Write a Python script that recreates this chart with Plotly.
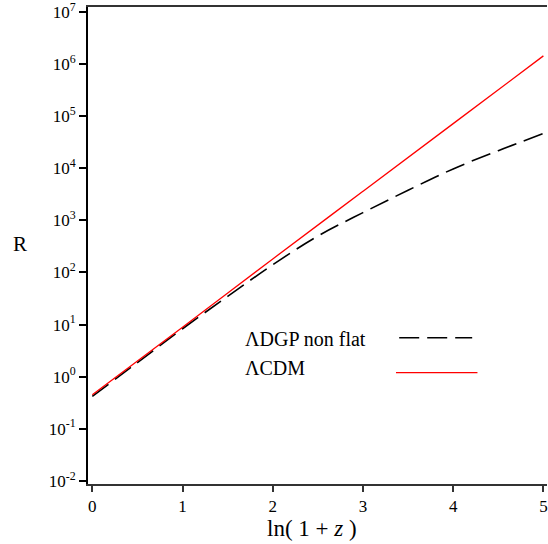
import plotly.graph_objects as go

# x = ln(1+z)
x_vals = [0, 0.5, 1, 1.5, 2, 2.5, 3, 3.5, 4, 4.5, 5]
# Lambda DGP non flat
r_dgp = [0.417, 1.86, 8.3, 34.7, 141, 501, 1413, 3800, 9770, 21900, 46800]
# Lambda CDM
x_lcdm = [0, 1, 2, 3, 4, 5]
r_lcdm = [0.447, 8.9, 182, 3630, 72400, 1.45e6]

name_dgp = "ΛDGP non flat"
name_lcdm = "ΛCDM"

y_tickvals = [1e-2, 1e-1, 1e0, 1e1, 1e2, 1e3, 1e4, 1e5, 1e6, 1e7]
y_ticktext = ["10<sup>-2</sup>", "10<sup>-1</sup>", "10<sup>0</sup>", "10<sup>1</sup>",
              "10<sup>2</sup>", "10<sup>3</sup>", "10<sup>4</sup>", "10<sup>5</sup>",
              "10<sup>6</sup>", "10<sup>7</sup>"]
x_tickvals = [0, 1, 2, 3, 4, 5]

FONT = "Liberation Serif"

fig = go.Figure()
fig.add_trace(go.Scatter(x=x_vals, y=r_dgp, mode="lines", name=name_dgp,
                         line=dict(color="black", width=1.6, dash="20px,8px", shape="spline"),
                         showlegend=False))
fig.add_trace(go.Scatter(x=x_lcdm, y=r_lcdm, mode="lines", name=name_lcdm,
                         line=dict(color="red", width=1.3, shape="spline"),
                         showlegend=False))

fig.update_layout(
    width=548, height=544,
    margin=dict(l=88, r=0, t=5, b=60),
    paper_bgcolor="white", plot_bgcolor="white",
    font=dict(family=FONT, size=16, color="black"),
    xaxis=dict(range=[-0.048, 5.04], tickvals=x_tickvals, ticks="outside", ticklen=6,
               tickwidth=1.5, tickcolor="#333", showline=True, linecolor="#333",
               linewidth=2, mirror=True, showgrid=False, zeroline=False,
               ticklabeloverflow="allow",
               tickfont=dict(family=FONT, size=17)),
    yaxis=dict(type="log", range=[-2.063, 7.10], tickvals=y_tickvals, ticktext=y_ticktext,
               ticks="outside", ticklen=7, tickwidth=1.5, tickcolor="black",
               showline=True, linecolor="black", linewidth=2, showgrid=False,
               zeroline=False, ticklabeloverflow="allow",
               tickfont=dict(family=FONT, size=17)),
)

annotations = [
    dict(text="R", x=-0.148, y=0.503, xref="paper", yref="paper", showarrow=False,
         font=dict(family=FONT, size=21), xanchor="center", yanchor="middle"),
    dict(text="ln( 1 + <i>z</i> )", x=0.489, y=-0.094, xref="paper", yref="paper",
         showarrow=False, font=dict(family=FONT, size=23), xanchor="center", yanchor="middle"),
    dict(text=name_dgp, x=0.3376, y=0.303, xref="paper", yref="paper", showarrow=False,
         font=dict(family=FONT, size=20), xanchor="left", yanchor="middle"),
    dict(text=name_lcdm, x=0.3376, y=0.2427, xref="paper", yref="paper", showarrow=False,
         font=dict(family=FONT, size=20), xanchor="left", yanchor="middle"),
]
fig.update_layout(annotations=annotations)

fig.add_shape(type="line", xref="paper", yref="paper", x0=0.678, x1=0.837, y0=0.3065, y1=0.3065,
              line=dict(color="black", width=1.6, dash="20px,8px"))
fig.add_shape(type="line", xref="paper", yref="paper", x0=0.671, x1=0.8485, y0=0.2335, y1=0.2335,
              line=dict(color="red", width=1.3))

fig.write_html("out.html", config={"displayModeBar": False})

# remove default body margin so the figure sits at the window origin
with open("out.html", "r", encoding="utf-8") as f:
    html = f.read()
html = html.replace("<body>", "<body style=\"margin:0;overflow:hidden\">", 1)
with open("out.html", "w", encoding="utf-8") as f:
    f.write(html)
